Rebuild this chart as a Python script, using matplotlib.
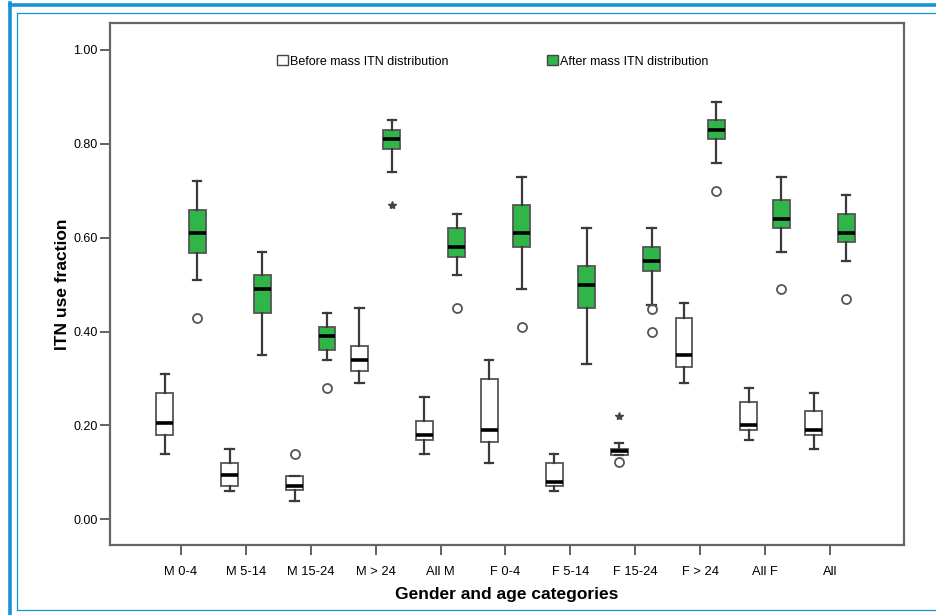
import matplotlib
matplotlib.use("Agg")
import matplotlib.pyplot as plt
from matplotlib.lines import Line2D
from matplotlib.patches import Patch

plt.rcParams['font.family'] = ['Liberation Sans', 'DejaVu Sans']

categories = ['M 0-4', 'M 5-14', 'M 15-24', 'M > 24', 'All M',
              'F 0-4', 'F 5-14', 'F 15-24', 'F > 24', 'All F', 'All']

# before mass ITN distribution (whisker low, q1, median, q3, whisker high)
before_lo = [0.14, 0.06, 0.04, 0.29, 0.14, 0.12, 0.06, 0.138, 0.29, 0.17, 0.15]
before_q1 = [0.18, 0.07, 0.063, 0.315, 0.17, 0.165, 0.07, 0.138, 0.325, 0.19, 0.18]
before_med = [0.205, 0.095, 0.072, 0.34, 0.18, 0.19, 0.08, 0.145, 0.35, 0.20, 0.19]
before_q3 = [0.27, 0.12, 0.092, 0.37, 0.21, 0.30, 0.12, 0.15, 0.43, 0.25, 0.23]
before_hi = [0.31, 0.15, 0.092, 0.45, 0.26, 0.34, 0.14, 0.162, 0.46, 0.28, 0.27]
before_out = [[], [], [0.14], [], [], [], [], [0.123], [], [], []]
before_ext = [[], [], [], [], [], [], [], [0.22], [], [], []]

# after mass ITN distribution
after_lo = [0.51, 0.35, 0.34, 0.74, 0.52, 0.49, 0.33, 0.457, 0.76, 0.57, 0.55]
after_q1 = [0.567, 0.44, 0.36, 0.79, 0.56, 0.58, 0.45, 0.53, 0.81, 0.62, 0.59]
after_med = [0.61, 0.49, 0.39, 0.81, 0.58, 0.61, 0.50, 0.55, 0.83, 0.64, 0.61]
after_q3 = [0.66, 0.52, 0.41, 0.83, 0.62, 0.67, 0.54, 0.58, 0.85, 0.68, 0.65]
after_hi = [0.72, 0.57, 0.44, 0.85, 0.65, 0.73, 0.62, 0.62, 0.89, 0.73, 0.69]
after_out = [[0.43], [], [0.28], [], [0.45], [0.41], [], [0.448, 0.40], [0.70], [0.49], [0.47]]
after_ext = [[], [], [], [0.67], [], [], [], [], [], [], []]

green = '#2fb548'
edge = '#3a3a3a'


def make_stats(lo, q1, med, q3, hi, out):
    return [dict(whislo=a, q1=b, med=c, q3=d, whishi=e, fliers=f)
            for a, b, c, d, e, f in zip(lo, q1, med, q3, hi, out)]


fig = plt.figure(figsize=(9.36, 6.15), dpi=100)
ax = fig.add_axes([0.1175, 0.1138, 0.8483, 0.8488])

x = list(range(len(categories)))
off = 0.25
pos_before = [i - off for i in x]
pos_after = [i + off for i in x]

common = dict(widths=0.26, capwidths=0.13, patch_artist=True,
              medianprops=dict(color='black', linewidth=2.6),
              whiskerprops=dict(color=edge, linewidth=1.6),
              capprops=dict(color=edge, linewidth=1.6),
              flierprops=dict(marker='o', markersize=6.5, markerfacecolor='none',
                              markeredgecolor='#555555', markeredgewidth=1.3))

ax.bxp(make_stats(before_lo, before_q1, before_med, before_q3, before_hi, before_out),
       positions=pos_before, boxprops=dict(facecolor='white', edgecolor='#555555', linewidth=1.3),
       **common)
ax.bxp(make_stats(after_lo, after_q1, after_med, after_q3, after_hi, after_out),
       positions=pos_after, boxprops=dict(facecolor=green, edgecolor='#555555', linewidth=1.3),
       **common)

# extreme values as stars
for p, vals in zip(pos_before, before_ext):
    ax.plot([p] * len(vals), vals, linestyle='none', marker='*', markersize=6, color='#444444')
for p, vals in zip(pos_after, after_ext):
    ax.plot([p] * len(vals), vals, linestyle='none', marker='*', markersize=6, color='#444444')

ax.set_xlim(-1.094, 11.14)
ax.set_ylim(-0.0547, 1.0575)
ax.set_xticks(x)
ax.set_xticklabels(categories, fontsize=9.3)
ax.set_yticks([0, 0.2, 0.4, 0.6, 0.8, 1.0])
ax.set_yticklabels(['0.00', '0.20', '0.40', '0.60', '0.80', '1.00'], fontsize=9)
ax.tick_params(length=7, width=1.3, color='#555555')
ax.tick_params(axis='x', pad=8)
ax.tick_params(axis='y', pad=2)

for s in ax.spines.values():
    s.set_color('#666666')
    s.set_linewidth(1.6)

ax.set_xlabel('Gender and age categories', fontsize=12.5, fontweight='bold', labelpad=6.5)
ax.set_ylabel('ITN use fraction', fontsize=12.5, fontweight='bold', labelpad=2.5)

handles = [Patch(facecolor='white', edgecolor='#444444', linewidth=1.0),
           Patch(facecolor=green, edgecolor='#444444', linewidth=1.0)]
ax.legend(handles, ['Before mass ITN distribution', 'After mass ITN distribution'],
          loc='center left', bbox_to_anchor=(0.204, 0.926), ncol=2, frameon=False,
          fontsize=9, handlelength=0.85, handleheight=0.85, handletextpad=0.2,
          columnspacing=7.9, borderaxespad=0)

# blue page frame
W, H = 936, 615
def fline(x0, y0, x1, y1, lw):
    fig.add_artist(Line2D([x0 / W, x1 / W], [1 - y0 / H, 1 - y1 / H],
                          transform=fig.transFigure, color='#1593d6', linewidth=lw))

fline(9.5, 4.5, 936, 4.5, 2.6)
fline(9.5, 3, 9.5, 615, 2.6)
fline(16.5, 12.5, 936, 12.5, 0.9)
fline(16.5, 12.5, 16.5, 609.5, 0.9)
fline(16.5, 609.5, 936, 609.5, 0.9)

fig.savefig('out.png', dpi=100)
